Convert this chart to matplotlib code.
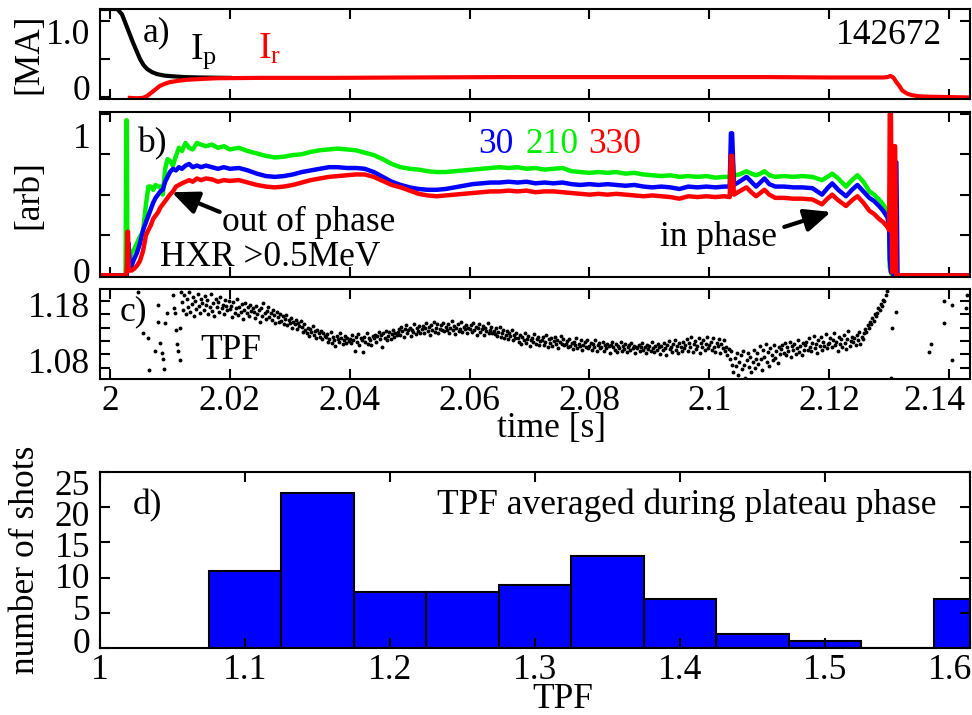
"""
Runaway-plateau overview for shot 142672: currents, HXR signals, TPF trace
and the TPF histogram over shots.  Saves out.png
"""
import matplotlib.pyplot as plt
import numpy as np
from matplotlib.transforms import ScaledTranslation

plt.rcParams['font.family'] = ['Liberation Serif', 'DejaVu Serif']
plt.rcParams['mathtext.fontset'] = 'custom'
plt.rcParams['mathtext.rm'] = 'Liberation Serif'
plt.rcParams['mathtext.it'] = 'Liberation Serif:italic'

FS = 25.5

# a) plasma current and runaway current [MA]
ip_t = [1.9985, 2.0012, 2.0020, 2.0028, 2.0038, 2.0050, 2.0056, 2.0062, 2.0070,
        2.0078, 2.0090, 2.0105, 2.0125, 2.0150, 2.0200]
ip = [1.15, 1.15, 1.08, 0.92, 0.72, 0.50, 0.42, 0.37, 0.33,
      0.305, 0.285, 0.275, 0.265, 0.26, 0.255]

ir_t = [2.0033, 2.0045, 2.0055, 2.0062, 2.0067, 2.0075, 2.0083, 2.0092, 2.0100,
        2.0112, 2.0128, 2.0150, 2.0178, 2.0250, 2.0372, 2.0500, 2.0650, 2.0800,
        2.0950, 2.1100, 2.1200, 2.1290, 2.1297, 2.1302, 2.1307, 2.1312, 2.1317,
        2.1322, 2.1330, 2.1338, 2.1350, 2.1367, 2.1400, 2.1435]
ir = [-0.005, -0.01, -0.005, 0.02, 0.05, 0.10, 0.15, 0.18, 0.20,
      0.215, 0.23, 0.24, 0.25, 0.255, 0.255, 0.26, 0.265, 0.265,
      0.265, 0.265, 0.26, 0.26, 0.265, 0.28, 0.26, 0.20, 0.15,
      0.09, 0.05, 0.03, 0.015, 0.01, 0.005, 0.0]

# b) HXR (>0.5 MeV) at toroidal angles 30, 210, 330 deg [arb]
hxr_t = [
    1.9985, 2.0024, 2.0026, 2.0027, 2.0028, 2.0029, 2.0030, 2.0031, 2.0033, 2.0036,
    2.0040, 2.0045, 2.0050, 2.0055, 2.0060, 2.0064, 2.0068, 2.0072, 2.0076, 2.0080,
    2.0084, 2.0088, 2.0092, 2.0096, 2.0100, 2.0105, 2.0110, 2.0115, 2.0120, 2.0126,
    2.0132, 2.0138, 2.0145, 2.0152, 2.0160, 2.0170, 2.0180, 2.0190, 2.0200, 2.0215,
    2.0230, 2.0245, 2.0260, 2.0275, 2.0290, 2.0305, 2.0320, 2.0335, 2.0350, 2.0365,
    2.0380, 2.0395, 2.0410, 2.0425, 2.0440, 2.0455, 2.0470, 2.0485, 2.0500, 2.0515,
    2.0530, 2.0545, 2.0560, 2.0575, 2.0590, 2.0605, 2.0620, 2.0635, 2.0650, 2.0665,
    2.0680, 2.0695, 2.0710, 2.0725, 2.0740, 2.0755, 2.0770, 2.0785, 2.0800, 2.0815,
    2.0830, 2.0845, 2.0860, 2.0875, 2.0890, 2.0905, 2.0920, 2.0935, 2.0950, 2.0965,
    2.0980, 2.0995, 2.1010, 2.1025, 2.1034, 2.1036, 2.1038, 2.1041, 2.1050, 2.1062,
    2.1070, 2.1078, 2.1085, 2.1092, 2.1100, 2.1110, 2.1125, 2.1140, 2.1155, 2.1172,
    2.1180, 2.1188, 2.1197, 2.1205, 2.1215, 2.1228, 2.1238, 2.1247, 2.1257, 2.1267,
    2.1275, 2.1283, 2.1290, 2.1297, 2.1300, 2.1301, 2.1303, 2.1305, 2.1308, 2.1310,
    2.1312, 2.1314, 2.1440]
hxr_210 = [
    0.0, 0.0, 0.0, 0.96, 0.96, 0.06, 0.05, 0.06, 0.10, 0.14,
    0.16, 0.20, 0.24, 0.27, 0.44, 0.55, 0.55, 0.53, 0.56, 0.55,
    0.55, 0.50, 0.66, 0.72, 0.71, 0.68, 0.74, 0.79, 0.77, 0.82,
    0.79, 0.78, 0.82, 0.81, 0.80, 0.81, 0.79, 0.80, 0.78, 0.79,
    0.77, 0.755, 0.74, 0.73, 0.735, 0.745, 0.75, 0.765, 0.775, 0.78,
    0.785, 0.78, 0.775, 0.76, 0.745, 0.72, 0.69, 0.67, 0.66, 0.655,
    0.645, 0.64, 0.64, 0.645, 0.65, 0.655, 0.66, 0.665, 0.67, 0.665,
    0.67, 0.66, 0.665, 0.655, 0.66, 0.665, 0.645, 0.64, 0.635, 0.64,
    0.635, 0.64, 0.63, 0.635, 0.625, 0.62, 0.615, 0.62, 0.61, 0.615,
    0.61, 0.615, 0.605, 0.61, 0.61, 0.76, 0.76, 0.62, 0.625, 0.645,
    0.63, 0.62, 0.63, 0.645, 0.62, 0.61, 0.615, 0.61, 0.615, 0.61,
    0.60, 0.59, 0.61, 0.63, 0.60, 0.55, 0.59, 0.62, 0.58, 0.52,
    0.50, 0.47, 0.44, 0.40, 0.30, 0.05, 0.02, 0.0, 0.0, 0.0,
    0.0, 0.0, 0.0]
hxr_30 = [
    0.0, 0.0, 0.0, 0.0, 0.0, 0.05, 0.08, 0.20, 0.05, 0.06,
    0.10, 0.14, 0.20, 0.28, 0.33, 0.37, 0.41, 0.45, 0.48, 0.50,
    0.52, 0.53, 0.58, 0.61, 0.64, 0.66, 0.65, 0.67, 0.66, 0.68,
    0.69, 0.67, 0.68, 0.67, 0.68, 0.67, 0.66, 0.67, 0.66, 0.665,
    0.65, 0.63, 0.615, 0.61, 0.615, 0.625, 0.64, 0.65, 0.66, 0.67,
    0.67, 0.665, 0.665, 0.66, 0.64, 0.61, 0.58, 0.56, 0.545, 0.535,
    0.53, 0.53, 0.535, 0.545, 0.555, 0.565, 0.57, 0.575, 0.575, 0.58,
    0.575, 0.58, 0.57, 0.575, 0.57, 0.575, 0.565, 0.56, 0.565, 0.56,
    0.565, 0.56, 0.555, 0.56, 0.55, 0.545, 0.55, 0.545, 0.535, 0.55,
    0.545, 0.55, 0.545, 0.55, 0.55, 0.88, 0.88, 0.56, 0.58, 0.61,
    0.58, 0.55, 0.575, 0.60, 0.565, 0.55, 0.55, 0.545, 0.545, 0.54,
    0.52, 0.50, 0.54, 0.57, 0.53, 0.49, 0.53, 0.56, 0.52, 0.48,
    0.46, 0.43, 0.40, 0.36, 0.30, 0.10, 0.02, 0.02, 0.0, 0.70,
    0.70, 0.0, 0.0]
hxr_330 = [
    0.0, 0.0, 0.0, 0.0, 0.05, 0.27, 0.27, 0.05, 0.03, 0.03,
    0.04, 0.06, 0.09, 0.15, 0.25, 0.28, 0.31, 0.35, 0.37, 0.39,
    0.42, 0.44, 0.46, 0.48, 0.50, 0.52, 0.55, 0.56, 0.57, 0.58,
    0.59, 0.58, 0.60, 0.59, 0.60, 0.595, 0.58, 0.59, 0.585, 0.59,
    0.575, 0.56, 0.55, 0.545, 0.55, 0.56, 0.575, 0.59, 0.60, 0.61,
    0.615, 0.62, 0.625, 0.625, 0.61, 0.585, 0.56, 0.545, 0.525, 0.505,
    0.495, 0.49, 0.495, 0.50, 0.505, 0.51, 0.515, 0.52, 0.52, 0.525,
    0.52, 0.525, 0.515, 0.52, 0.52, 0.515, 0.51, 0.505, 0.50, 0.505,
    0.50, 0.505, 0.50, 0.495, 0.49, 0.495, 0.49, 0.485, 0.475, 0.49,
    0.485, 0.49, 0.485, 0.49, 0.485, 0.74, 0.74, 0.50, 0.52, 0.545,
    0.515, 0.49, 0.51, 0.53, 0.50, 0.48, 0.48, 0.475, 0.475, 0.47,
    0.455, 0.44, 0.475, 0.50, 0.465, 0.43, 0.465, 0.49, 0.45, 0.40,
    0.38, 0.35, 0.33, 0.30, 0.28, 1.0, 1.0, 0.02, 0.80, 0.80,
    0.0, 0.0, 0.0]

# c) TPF, sampled every 0.2 ms from 2.012 s
tpf_t0 = 2.012
tpf_dt = 0.0002
tpf = [
    1.178, 1.162, 1.191, 1.155, 1.183, 1.168, 1.196, 1.159, 1.174, 1.187, 1.151, 1.179, 1.165, 1.192, 1.170, 1.158, 1.184, 1.176, 1.163, 1.189,
    1.172, 1.181, 1.156, 1.168, 1.193, 1.161, 1.175, 1.152, 1.184, 1.169, 1.177, 1.160, 1.188, 1.166, 1.173, 1.155, 1.182, 1.170, 1.163, 1.179,
    1.165, 1.171, 1.149, 1.178, 1.158, 1.167, 1.183, 1.153, 1.169, 1.160, 1.174, 1.146, 1.163, 1.176, 1.157, 1.168, 1.151, 1.172, 1.161, 1.166,
    1.159, 1.148, 1.170, 1.155, 1.163, 1.141, 1.166, 1.152, 1.175, 1.158, 1.146, 1.161, 1.168, 1.150, 1.157, 1.144, 1.163, 1.153, 1.139, 1.160,
    1.149, 1.140, 1.155, 1.143, 1.151, 1.137, 1.146, 1.153, 1.134, 1.144, 1.139, 1.148, 1.130, 1.141, 1.136, 1.145, 1.128, 1.138, 1.133, 1.142,
    1.131, 1.122, 1.136, 1.125, 1.119, 1.130, 1.114, 1.127, 1.121, 1.133, 1.117, 1.124, 1.110, 1.126, 1.119, 1.113, 1.123, 1.108, 1.120, 1.115,
    1.112, 1.118, 1.104, 1.109, 1.121, 1.101, 1.113, 1.107, 1.096, 1.115, 1.108, 1.103, 1.119, 1.110, 1.099, 1.106, 1.114, 1.102, 1.111, 1.105,
    1.109, 1.101, 1.116, 1.106, 1.087, 1.112, 1.103, 1.118, 1.098, 1.110, 1.106, 1.085, 1.113, 1.104, 1.120, 1.100, 1.111, 1.107, 1.097, 1.115,
    1.110, 1.117, 1.103, 1.114, 1.121, 1.108, 1.116, 1.093, 1.119, 1.111, 1.124, 1.106, 1.115, 1.122, 1.109, 1.118, 1.126, 1.113, 1.120, 1.116,
    1.121, 1.128, 1.117, 1.131, 1.123, 1.112, 1.127, 1.134, 1.119, 1.125, 1.130, 1.115, 1.126, 1.122, 1.137, 1.118, 1.129, 1.124, 1.133, 1.120,
    1.127, 1.133, 1.120, 1.129, 1.138, 1.124, 1.131, 1.117, 1.135, 1.126, 1.141, 1.122, 1.130, 1.136, 1.119, 1.128, 1.134, 1.125, 1.139, 1.123,
    1.131, 1.125, 1.137, 1.120, 1.129, 1.143, 1.126, 1.133, 1.118, 1.130, 1.136, 1.123, 1.128, 1.140, 1.121, 1.132, 1.127, 1.135, 1.119, 1.130,
    1.128, 1.134, 1.122, 1.139, 1.125, 1.131, 1.117, 1.129, 1.136, 1.121, 1.127, 1.133, 1.116, 1.130, 1.124, 1.138, 1.120, 1.126, 1.132, 1.119,
    1.124, 1.118, 1.129, 1.115, 1.121, 1.132, 1.113, 1.120, 1.126, 1.110, 1.117, 1.123, 1.108, 1.119, 1.114, 1.125, 1.106, 1.116, 1.111, 1.120,
    1.110, 1.104, 1.116, 1.099, 1.112, 1.107, 1.119, 1.101, 1.109, 1.114, 1.096, 1.106, 1.111, 1.103, 1.118, 1.100, 1.108, 1.113, 1.097, 1.105,
    1.106, 1.112, 1.098, 1.103, 1.117, 1.094, 1.108, 1.101, 1.110, 1.096, 1.105, 1.113, 1.099, 1.107, 1.092, 1.104, 1.115, 1.100, 1.109, 1.097,
    1.099, 1.105, 1.093, 1.108, 1.096, 1.101, 1.090, 1.104, 1.097, 1.110, 1.092, 1.100, 1.095, 1.106, 1.088, 1.098, 1.103, 1.094, 1.107, 1.091,
    1.096, 1.102, 1.089, 1.099, 1.093, 1.106, 1.087, 1.097, 1.101, 1.091, 1.094, 1.104, 1.086, 1.098, 1.092, 1.100, 1.095, 1.083, 1.097, 1.103,
    1.094, 1.089, 1.099, 1.085, 1.096, 1.092, 1.103, 1.087, 1.095, 1.090, 1.100, 1.084, 1.093, 1.097, 1.088, 1.101, 1.091, 1.096, 1.082, 1.094,
    1.091, 1.097, 1.086, 1.094, 1.101, 1.088, 1.093, 1.083, 1.098, 1.090, 1.095, 1.087, 1.104, 1.092, 1.085, 1.096, 1.089, 1.099, 1.093, 1.081,
    1.095, 1.088, 1.101, 1.092, 1.079, 1.097, 1.105, 1.090, 1.094, 1.084, 1.099, 1.107, 1.089, 1.096, 1.082, 1.102, 1.093, 1.086, 1.104, 1.091,
    1.098, 1.108, 1.087, 1.101, 1.093, 1.112, 1.084, 1.099, 1.105, 1.090, 1.096, 1.110, 1.082, 1.102, 1.094, 1.107, 1.088, 1.100, 1.113, 1.091,
    1.097, 1.104, 1.089, 1.110, 1.093, 1.085, 1.101, 1.096, 1.108, 1.083, 1.099, 1.092, 1.106, 1.087, 1.094, 1.079, 1.090, 1.072, 1.086, 1.061,
    1.048, 1.074, 1.058, 1.083, 1.042, 1.066, 1.079, 1.053, 1.087, 1.061, 1.036, 1.070, 1.082, 1.057, 1.076, 1.047, 1.065, 1.089, 1.054, 1.072,
    1.083, 1.062, 1.095, 1.071, 1.050, 1.088, 1.076, 1.099, 1.066, 1.084, 1.058, 1.092, 1.079, 1.069, 1.097, 1.074, 1.087, 1.063, 1.093, 1.081,
    1.090, 1.097, 1.083, 1.101, 1.078, 1.093, 1.086, 1.104, 1.075, 1.095, 1.088, 1.099, 1.081, 1.092, 1.106, 1.085, 1.096, 1.079, 1.102, 1.089,
    1.097, 1.104, 1.089, 1.110, 1.094, 1.086, 1.101, 1.115, 1.092, 1.099, 1.083, 1.107, 1.096, 1.112, 1.088, 1.103, 1.095, 1.118, 1.091, 1.100,
    1.101, 1.110, 1.093, 1.106, 1.120, 1.097, 1.104, 1.087, 1.113, 1.099, 1.108, 1.094, 1.116, 1.102, 1.090, 1.109, 1.123, 1.096, 1.105, 1.112,
    1.103, 1.111, 1.097, 1.116, 1.106, 1.121, 1.100, 1.113, 1.108, 1.119, 1.127, 1.122, 1.134, 1.129, 1.141, 1.136, 1.148, 1.143, 1.155, 1.151,
    1.158, 1.166, 1.162, 1.174, 1.170, 1.182, 1.179, 1.191, 1.198,
]
# isolated TPF points during current quench and termination
tpf_sparse_t = [2.0047, 2.0055, 2.0063, 2.0065, 2.0075, 2.0080, 2.0080, 2.0083,
                2.0086, 2.0088, 2.0090, 2.0092, 2.0095, 2.0105, 2.0107, 2.0108,
                2.0110, 2.0112, 2.0114, 2.0116, 2.0117, 2.0119,
                2.1303, 2.1305, 2.1312, 2.1367, 2.1370, 2.1392, 2.1392, 2.1405,
                2.1405, 2.1428, 2.1430]
tpf_sparse = [1.196, 1.119, 1.110, 1.050, 1.087, 1.172, 1.140, 1.102,
              1.082, 1.072, 1.052, 1.138, 1.157, 1.190, 1.166, 1.157,
              1.125, 1.100, 1.087, 1.069, 1.130, 1.196,
              1.035, 1.129, 1.160, 1.084, 1.100, 1.138, 1.180, 1.172,
              1.069, 1.166, 1.190]

# d) histogram of plateau-averaged TPF
tpf_bin_centres = [1.10, 1.15, 1.20, 1.25, 1.30, 1.35, 1.40, 1.45, 1.50, 1.55, 1.60]
shot_counts = [11, 22, 8, 8, 9, 13, 7, 2, 1, 0, 7]

time_ticks = [2.0, 2.02, 2.04, 2.06, 2.08, 2.10, 2.12, 2.14]
time_ticklabels = ['2', '2.02', '2.04', '2.06', '2.08', '2.1', '2.12', '2.14']


def style(ax, xpad=7):
    ax.tick_params(direction='in', top=True, right=True, length=7, width=1.5,
                   labelsize=FS, pad=7)
    ax.tick_params(axis='x', pad=xpad)
    for sp in ax.spines.values():
        sp.set_linewidth(1.5)


def shift(label, dx_px=0, dy_px=0):
    # offset a text by pixels at 100 dpi (positive dy = down)
    fig = label.figure
    label.set_transform(label.get_transform() +
                        ScaledTranslation(dx_px / 100, -dy_px / 100, fig.dpi_scale_trans))


def nudge_ylabels(ax, shifts_px):
    for lab, dy in zip(ax.get_yticklabels(), shifts_px):
        if dy:
            shift(lab, dy_px=dy)


def main():
    fig = plt.figure(figsize=(9.72, 7.15), dpi=100)
    x0, w = 0.1029, 0.8951
    ax_a = fig.add_axes([x0, 0.8615, w, 0.1259])
    ax_b = fig.add_axes([x0, 0.6126, w, 0.2308])
    ax_c = fig.add_axes([x0, 0.4699, w, 0.1259])
    ax_d = fig.add_axes([x0, 0.0937, w, 0.2462])
    tlim = (1.99833, 2.1435)

    # a) currents
    ax_a.plot(ip_t, ip, color='k', lw=3)
    ax_a.plot(ir_t, ir, color='r', lw=3)
    ax_a.set_xlim(*tlim)
    ax_a.set_ylim(-0.02, 1.15)
    ax_a.set_yticks([0, 0.5, 1.0], ['0', '', '1.0'])
    ax_a.set_xticks(time_ticks, [])
    ax_a.set_ylabel('[MA]', fontsize=FS)
    ax_a.yaxis.set_label_coords(-0.063, 0.5)
    ax_a.text(0.049, 0.74, 'a)', transform=ax_a.transAxes, fontsize=FS, va='center')
    ax_a.text(0.103, 0.45, r'$\mathregular{I_p}$', transform=ax_a.transAxes,
              fontsize=27, color='k', va='baseline')
    ax_a.text(0.182, 0.45, r'$\mathregular{I_r}$', transform=ax_a.transAxes,
              fontsize=27, color='r', va='baseline')
    ax_a.text(0.968, 0.71, '142672', transform=ax_a.transAxes, fontsize=FS,
              ha='right', va='center')
    style(ax_a)
    nudge_ylabels(ax_a, [-10, 0, 11])

    # b) HXR signals
    ax_b.plot(hxr_t, hxr_210, color='#00ee00', lw=3.2)
    ax_b.plot(hxr_t, hxr_30, color='#0000ff', lw=3.2)
    ax_b.plot(hxr_t, hxr_330, color='#ff0000', lw=3.2)
    ax_b.set_xlim(*tlim)
    ax_b.set_ylim(-0.01, 1.012)
    ax_b.set_yticks([0, 0.25, 0.5, 0.75, 1.0], ['0', '', '', '', '1'])
    ax_b.set_xticks(time_ticks, [])
    ax_b.set_ylabel('[arb]', fontsize=FS)
    ax_b.yaxis.set_label_coords(-0.063, 0.5)
    ax_b.text(0.044, 0.81, 'b)', transform=ax_b.transAxes, fontsize=FS, va='center')
    for xf, lab, col in [(0.4345, '30', '#0000ff'), (0.4885, '210', '#00ee00'),
                         (0.561, '330', '#ff0000')]:
        ax_b.text(xf, 0.80, lab, transform=ax_b.transAxes, fontsize=FS,
                  color=col, va='center')
    ax_b.text(0.069, 0.121, 'HXR >0.5MeV', transform=ax_b.transAxes,
              fontsize=FS, va='center')
    arrow = dict(arrowstyle='-|>,head_length=0.8,head_width=0.35', lw=3,
                 color='k', shrinkA=0, shrinkB=0, mutation_scale=20)
    ax_b.annotate('', xy=(2.0103, 0.515), xytext=(2.0183, 0.393), arrowprops=arrow)
    ax_b.text(0.140, 0.333, 'out of phase', transform=ax_b.transAxes,
              fontsize=FS, va='center')
    ax_b.annotate('', xy=(2.1203, 0.393), xytext=(2.1125, 0.30), arrowprops=arrow)
    ax_b.text(0.644, 0.242, 'in phase', transform=ax_b.transAxes,
              fontsize=FS, va='center')
    style(ax_b)
    nudge_ylabels(ax_b, [-5, 0, 0, 0, 22])

    # c) TPF trace
    t_tpf = tpf_t0 + tpf_dt * np.arange(len(tpf))
    ax_c.plot(t_tpf, tpf, '.', color='k', ms=3.6)
    ax_c.plot(tpf_sparse_t, tpf_sparse, '.', color='k', ms=3.6)
    ax_c.set_xlim(*tlim)
    ax_c.set_ylim(1.034, 1.202)
    ax_c.set_yticks([1.055, 1.08, 1.105, 1.13, 1.155, 1.18],
                    ['', '1.08', '', '', '', '1.18'])
    ax_c.set_xticks(time_ticks, time_ticklabels)
    ax_c.set_xlabel('time [s]', fontsize=FS)
    ax_c.xaxis.set_label_coords(0.519, -0.37)
    ax_c.text(0.023, 0.744, 'c)', transform=ax_c.transAxes, fontsize=FS, va='center')
    ax_c.text(0.115, 0.322, 'TPF', transform=ax_c.transAxes, fontsize=FS, va='center')
    style(ax_c, xpad=4)
    nudge_ylabels(ax_c, [0, 6, 0, 0, 0, 4])
    shift(ax_c.get_xticklabels()[-1], dx_px=-15)

    # d) histogram over shots
    ax_d.bar(tpf_bin_centres, shot_counts, width=0.05, color='#0000ff',
             edgecolor='k', linewidth=1.5)
    ax_d.set_xlim(1.0, 1.6)
    ax_d.set_ylim(0, 25)
    ax_d.set_yticks([0, 5, 10, 15, 20, 25])
    ax_d.set_xticks([1.0, 1.1, 1.2, 1.3, 1.4, 1.5, 1.6],
                    ['1', '1.1', '1.2', '1.3', '1.4', '1.5', '1.6'])
    ax_d.set_xlabel('TPF', fontsize=FS)
    ax_d.xaxis.set_label_coords(0.532, -0.20)
    ax_d.set_ylabel('number of shots', fontsize=FS)
    ax_d.yaxis.set_label_coords(-0.067, 0.5)
    ax_d.text(0.038, 0.81, 'd)', transform=ax_d.transAxes, fontsize=FS, va='center')
    ax_d.text(0.962, 0.81, 'TPF averaged during plateau phase',
              transform=ax_d.transAxes, fontsize=FS, ha='right', va='center')
    style(ax_d, xpad=4)
    nudge_ylabels(ax_d, [-8, -5, -2, 2, 6, 11])
    shift(ax_d.get_xticklabels()[-1], dx_px=-20)

    fig.savefig('out.png', dpi=100)
    plt.close(fig)


if __name__ == '__main__':
    main()
